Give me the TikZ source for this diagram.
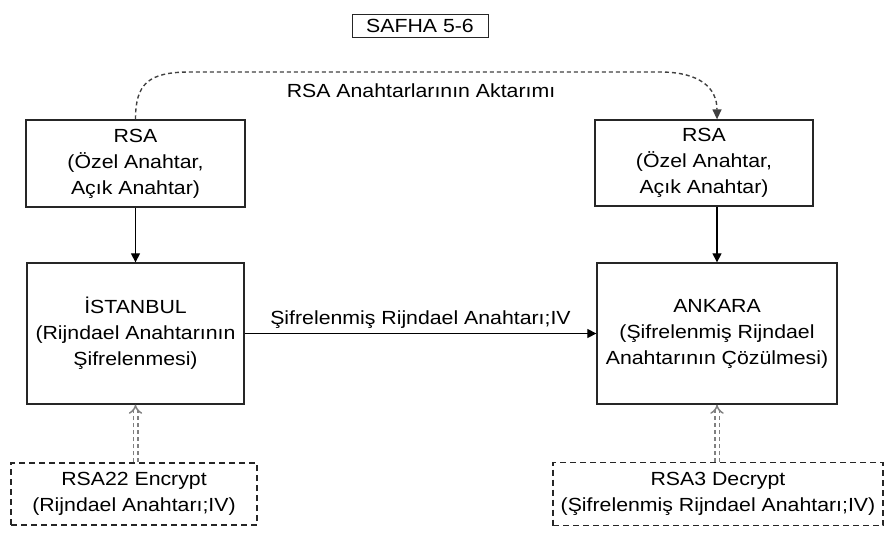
\documentclass[tikz,border=0pt]{standalone}
\usepackage{fontspec}
\setmainfont{Liberation Sans}[FakeStretch=1.12]
\usetikzlibrary{arrows.meta}
\begin{document}
\begin{tikzpicture}[x=1pt,y=-1pt,
  txt/.style={font=\fontsize{19}{26}\selectfont},
  solidbox/.style={txt, draw=black!85, line width=1.3pt, align=center, inner sep=0pt},
  dashbox/.style={txt, draw=black!85, line width=1.1pt, dash pattern=on 6pt off 4pt, align=center, inner sep=0pt},
  flow/.style={draw=black, line width=1.2pt, -{Triangle[length=9pt,width=9pt]}},
  transfer/.style={draw=black!75, line width=1.4pt, dash pattern=on 4pt off 3pt, -{Triangle[length=10pt,width=9pt]}},
  link/.style={draw=black!50, double=white, double distance=3pt, line width=1.5pt, dash pattern=on 4pt off 3pt, -{Implies}},
]
\useasboundingbox (0,0) rectangle (888,533);

% page title
\node[solidbox, line width=1pt, minimum width=136pt, minimum height=23pt] (title) at (420,25.5) {SAFHA 5-6};

% key pairs
\node[solidbox, minimum width=219pt, minimum height=87pt] (rsaL) at (135.5,163.5)
  {RSA\\(Özel Anahtar,\\Açık Anahtar)};
\node[solidbox, minimum width=218pt, minimum height=86pt] (rsaR) at (704,163)
  {RSA\\(Özel Anahtar,\\Açık Anahtar)};

% the two sites
\node[solidbox, minimum width=217pt, minimum height=141pt] (ist) at (135.5,333.5)
  {İSTANBUL\\(Rijndael Anahtarının\\Şifrelenmesi)};
\node[solidbox, minimum width=240pt, minimum height=141pt] (ank) at (717,333.5)
  {ANKARA\\(Şifrelenmiş Rijndael\\Anahtarının Çözülmesi)};

% helper programs
\node[dashbox, minimum width=246pt, minimum height=62pt] (enc) at (134,494)
  {RSA22 Encrypt\\(Rijndael Anahtarı;IV)};
\node[dashbox, minimum width=330pt, minimum height=63pt] (dec) at (718,494)
  {RSA3 Decrypt\\(Şifrelenmiş Rijndael Anahtarı;IV)};

% connectors
\coordinate (rsaRtop) at (ank.center |- rsaR.north);
\coordinate (rsaRbot) at (ank.center |- rsaR.south);
\draw[transfer] (rsaL.north) .. controls (135.5,84) and (148,72) .. (190,72)
  -- (660,72) .. controls (700,72) and (717,88) .. (rsaRtop);
\node[txt] (transferlbl) at (421,91) {RSA Anahtarlarının Aktarımı};

\draw[flow] (rsaL.south) -- (ist.north);
\draw[flow] (rsaRbot) -- (ank.north);

\draw[flow] (ist.east) -- node[txt, above, inner sep=4pt] (keylbl) {Şifrelenmiş Rijndael Anahtarı;IV} (ank.west);

\draw[link] (ist.south |- enc.north) -- (ist.south);
\draw[link] (ank.south |- dec.north) -- (ank.south);
\end{tikzpicture}
\end{document}
